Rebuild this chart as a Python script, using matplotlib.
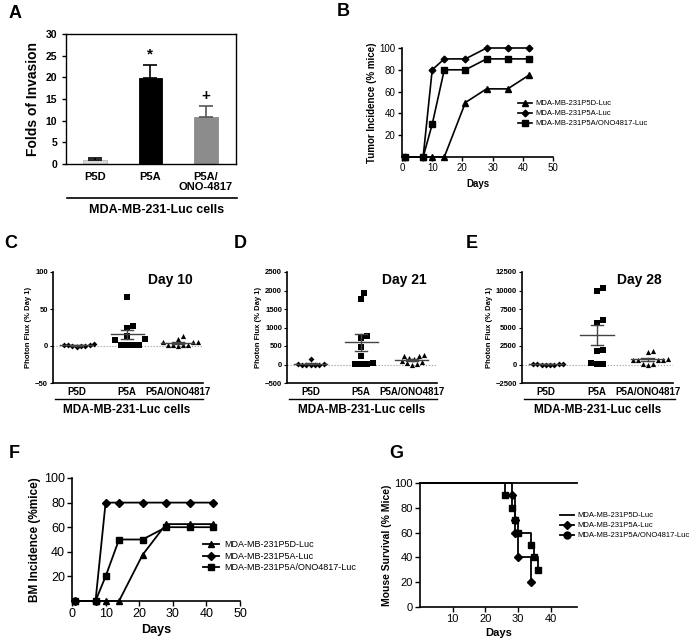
import numpy as np
import matplotlib
matplotlib.use("Agg")
import matplotlib.pyplot as plt
from matplotlib.lines import Line2D

plt.rcParams['font.family'] = ['Liberation Sans', 'DejaVu Sans']

W, H = 699, 644

# ---------------- data ----------------
# Panel A
a_groups = ["P5D", "P5A", "P5A/\nONO-4817"]
a_values = [1.0, 19.8, 10.8]
a_errors = [0.4, 3.1, 2.5]
a_marks = ["", "*", "+"]

# Panel B
b_days = [1, 7, 10, 14, 21, 28, 35, 42]
b_p5d = [0, 0, 0, 0, 50, 62.5, 62.5, 75]
b_p5a = [0, 0, 80, 90, 90, 100, 100, 100]
b_ono = [0, 0, 30, 80, 80, 90, 90, 90]
series_names = ["MDA-MB-231P5D-Luc", "MDA-MB-231P5A-Luc", "MDA-MB-231P5A/ONO4817-Luc"]

# Panels C-E
cat_labels = ["P5D", "P5A", "P5A/ONO4817"]
c_p5d = [0, 1, -1, 0, 2, 1, 3, 0]
c_p5a = [66, 27, 24, 13, 10, 8, 2, 2, 2, 2]
c_ono = [13, 10, 6, 6, 5, 1, 1, 1, 1, 0]
d_p5d = [0, 0, 5, 0, 10, 0, 0, 160]
d_p5a = [1940, 1760, 780, 720, 460, 230, 20, 20, 20, 50]
d_ono = [270, 240, 220, 180, 150, 100, 70, 40, 10, 0]
e_p5d = [0, 30, 0, 20, 0, 10, 0, 40]
e_p5a = [10300, 10000, 6000, 5600, 2000, 1850, 200, 50, 30]
e_ono = [1800, 1750, 700, 650, 650, 600, 550, 50, 30, 0]

# Panel F
f_days = [1, 7, 10, 14, 21, 28, 35, 42]
f_p5d = [0, 0, 0, 0, 37.5, 62.5, 62.5, 62.5]
f_p5a = [0, 0, 80, 80, 80, 80, 80, 80]
f_ono = [0, 0, 20, 50, 50, 60, 60, 60]

# Panel G (Kaplan-Meier)
g_p5d_t = [0, 48]
g_p5d_s = [100, 100]
g_p5a_t = [0, 28, 29, 29, 30, 34]
g_p5a_s = [100, 90, 70, 60, 40, 20]
g_ono_t = [0, 26, 28, 29, 30, 34, 35, 36]
g_ono_s = [100, 90, 80, 70, 60, 50, 40, 30]


def rect(l, t, r, b):
    return [l / W, 1 - b / H, (r - l) / W, (b - t) / H]


def ftext(x, y, s, **kw):
    fig.text(x / W, 1 - y / H, s, **kw)


def fline(x0, x1, y, lw=1.0, color='black'):
    fig.add_artist(Line2D([x0 / W, x1 / W], [1 - y / H, 1 - y / H], lw=lw, color=color))


fig = plt.figure(figsize=(W / 100, H / 100), dpi=100)

# ---------------- Panel A ----------------
axA = fig.add_axes(rect(66, 34, 236, 164))
xa = np.arange(len(a_groups))
colsA = ['#d9d9d9', '#000000', '#8c8c8c']
axA.bar(xa, a_values, width=0.42, color=colsA, edgecolor=['#bbbbbb', 'black', '#8c8c8c'], linewidth=0.6, zorder=2)
for i in range(3):
    ec = '#555555' if i == 2 else 'black'
    axA.errorbar(xa[i], a_values[i], yerr=[[0], [a_errors[i]]], fmt='none', ecolor=ec,
                 elinewidth=1.2, capsize=5, capthick=1.2, zorder=3)
    if a_marks[i]:
        axA.text(xa[i], a_values[i] + a_errors[i] + 0.8, a_marks[i], ha='center', va='bottom',
                 fontsize=11, fontweight='bold')
axA.set_xlim(-0.52, 2.54)
axA.set_ylim(0, 30)
axA.set_yticks([0, 5, 10, 15, 20, 25, 30])
axA.set_xticks(xa)
axA.set_xticklabels(a_groups, fontsize=8, fontweight='bold', linespacing=1.0)
axA.tick_params(axis='x', length=0, pad=6)
axA.tick_params(axis='y', labelsize=7.5, length=3, width=1)
for lab in axA.get_yticklabels():
    lab.set_fontweight('bold')
for sp in axA.spines.values():
    sp.set_linewidth(1.0)
axA.set_ylabel("Folds of Invasion", fontsize=10, fontweight='bold', labelpad=4)
fline(67, 237, 198, lw=1.2)
ftext(157, 210, "MDA-MB-231-Luc cells", ha='center', va='center', fontsize=9, fontweight='bold')


# ---------------- line panels ----------------
def incidence(ax, days, s1, s2, s3, lw=1.3, ms=4.5):
    ax.plot(days, s1, marker='^', color='black', lw=lw, ms=ms, clip_on=False, label=series_names[0])
    ax.plot(days, s2, marker='D', color='black', lw=lw, ms=ms * 0.85, clip_on=False, label=series_names[1])
    ax.plot(days, s3, marker='s', color='black', lw=lw, ms=ms, clip_on=False, label=series_names[2])
    ax.set_xlim(0, 50)
    ax.set_ylim(0, 100)
    ax.set_xticks([0, 10, 20, 30, 40, 50])
    ax.set_yticks([20, 40, 60, 80, 100])
    for s in ['top', 'right']:
        ax.spines[s].set_visible(False)
    for s in ['left', 'bottom']:
        ax.spines[s].set_linewidth(1.2)


axB = fig.add_axes(rect(402, 48, 553, 157))
incidence(axB, b_days, b_p5d, b_p5a, b_ono, lw=1.2, ms=4)
axB.tick_params(labelsize=7, length=3, width=1, pad=1.5)
axB.set_ylabel("Tumor Incidence (% mice)", fontsize=7, fontweight='bold', labelpad=2)
axB.set_xlabel("Days", fontsize=7, fontweight='bold', labelpad=4)
axB.legend(loc='upper left', bbox_to_anchor=((518 - 402) / 151, (157 - 100) / 109), frameon=False,
           fontsize=5.5, handlelength=1.8, handletextpad=0.5, labelspacing=0.35, borderaxespad=0, borderpad=0)

axF = fig.add_axes(rect(72, 478, 240, 601))
incidence(axF, f_days, f_p5d, f_p5a, f_ono, lw=1.3, ms=5)
axF.tick_params(labelsize=9, length=3.5, width=1, pad=1.5)
axF.set_ylabel("BM Incidence (%mice)", fontsize=8.5, fontweight='bold', labelpad=2)
axF.set_xlabel("Days", fontsize=9, fontweight='bold', labelpad=3)
axF.legend(loc='upper left', bbox_to_anchor=((203 - 72) / 168, (601 - 540) / 123), frameon=False,
           fontsize=6.5, handlelength=1.8, handletextpad=0.5, labelspacing=0.3, borderaxespad=0, borderpad=0)


# ---------------- scatter panels ----------------
def swarm(vals, y_px_per_unit, x_px_per_cat, d, vscale=0.85):
    """Deterministic beeswarm: place each point at the smallest horizontal offset free of overlap."""
    vals = np.asarray(vals, float)
    order = np.argsort(vals, kind='stable')
    placed = []
    offs = np.zeros(len(vals))
    step = d / 2.0
    cands = [0.0]
    for k in range(1, 30):
        cands += [k * step, -k * step]
    for i in order:
        y = vals[i] * y_px_per_unit
        for c in cands:
            if all(np.hypot(c - px, (y - py) * vscale) >= d for px, py in placed):
                placed.append((c, y))
                offs[i] = c / x_px_per_cat
                break
    return offs


def scatter_panel(rc, data, ylim, yticks, day_text, day_xy):
    ax = fig.add_axes(rc)
    markers = ['D', 's', '^']
    sizes = [9, 14, 14]
    dists = [4.3, 6.0, 5.0]
    ypx = rc[3] * H / (ylim[1] - ylim[0])
    xpx = rc[2] * W / 2.97
    ax.axhline(0, color='#999999', lw=0.8, ls=':', zorder=0)
    for i, vals in enumerate(data):
        offs = swarm(vals, ypx, xpx, dists[i])
        ax.scatter(i + offs, vals, marker=markers[i], s=sizes[i], color='black', zorder=3, linewidths=0)
        v = np.asarray(vals, float)
        m = v.mean()
        se = v.std(ddof=1) / np.sqrt(len(v))
        ax.plot([i - 0.33, i + 0.33], [m, m], color='#444444', lw=1.0, zorder=4)
        ax.plot([i, i], [m - se, m + se], color='#444444', lw=1.0, zorder=4)
        ax.plot([i - 0.12, i + 0.12], [m + se, m + se], color='#444444', lw=1.0, zorder=4)
        ax.plot([i - 0.12, i + 0.12], [m - se, m - se], color='#444444', lw=1.0, zorder=4)
    ax.set_xlim(-0.47, 2.5)
    ax.set_ylim(*ylim)
    ax.set_yticks(yticks)
    ax.set_xticks([0, 1, 2])
    ax.set_xticklabels(cat_labels, fontsize=7, fontweight='bold')
    ax.tick_params(axis='x', length=0, pad=3)
    ax.tick_params(axis='y', labelsize=5.5, length=2.5, width=0.8, pad=1)
    for lab in ax.get_yticklabels():
        lab.set_fontweight('bold')
    for s in ['top', 'right']:
        ax.spines[s].set_visible(False)
    for s in ['left', 'bottom']:
        ax.spines[s].set_linewidth(1.2)
    ax.set_ylabel("Photon Flux (% Day 1)", fontsize=5.5, fontweight='bold', labelpad=2)
    ax.text(day_xy[0], day_xy[1], day_text, transform=ax.transAxes, fontsize=10, fontweight='bold',
            ha='center', va='center')
    return ax


axC = scatter_panel(rect(53, 272, 203, 383), [c_p5d, c_p5a, c_ono], (-50, 100), [-50, 0, 50, 100],
                    "Day 10", (0.78, 0.93))
axD = scatter_panel(rect(287, 272, 437, 383), [d_p5d, d_p5a, d_ono], (-500, 2500),
                    [-500, 0, 500, 1000, 1500, 2000, 2500], "Day 21", (0.78, 0.93))
axE = scatter_panel(rect(522, 272, 673, 383), [e_p5d, e_p5a, e_ono], (-2500, 12500),
                    [-2500, 0, 2500, 5000, 7500, 10000, 12500], "Day 28", (0.78, 0.93))
for (x0, x1, xc) in [(55, 203, 127), (289, 437, 362), (524, 675, 598)]:
    fline(x0, x1, 399, lw=1.0)
    ftext(xc, 410, "MDA-MB-231-Luc cells", ha='center', va='center', fontsize=8.5, fontweight='bold')

# ---------------- Panel G ----------------
axG = fig.add_axes(rect(420, 483, 577, 607))
axG.step(g_p5d_t, g_p5d_s, where='post', color='black', lw=1.3, clip_on=False, label=series_names[0])
axG.step(g_p5a_t, g_p5a_s, where='post', color='black', lw=1.3, clip_on=False)
axG.plot(g_p5a_t[1:], g_p5a_s[1:], 'D', color='black', ms=4, clip_on=False)
axG.step(g_ono_t, g_ono_s, where='post', color='black', lw=1.3, clip_on=False)
axG.plot(g_ono_t[1:], g_ono_s[1:], 's', color='black', ms=4.5, clip_on=False)
axG.plot([], [], marker='D', color='black', ms=4, lw=1.3, label=series_names[1])
axG.plot([], [], marker='o', color='black', ms=5, lw=1.3, label=series_names[2])
axG.set_xlim(0, 48)
axG.set_ylim(0, 100)
axG.set_xticks([10, 20, 30, 40])
axG.set_yticks([0, 20, 40, 60, 80, 100])
for s in ['top', 'right']:
    axG.spines[s].set_visible(False)
for s in ['left', 'bottom']:
    axG.spines[s].set_linewidth(1.2)
axG.tick_params(labelsize=8, length=3.5, width=1, pad=1.5)
axG.set_ylabel("Mouse Survival (% Mice)", fontsize=7.5, fontweight='bold', labelpad=2)
axG.set_xlabel("Days", fontsize=8, fontweight='bold', labelpad=3)
axG.legend(loc='upper left', bbox_to_anchor=((560 - 420) / 157, (607 - 512) / 124), frameon=False,
           fontsize=5.5, handlelength=1.8, handletextpad=0.5, labelspacing=0.35, borderaxespad=0, borderpad=0)

# ---------------- panel letters ----------------
for (x, y, s) in [(9, 14, "A"), (337, 11, "B"), (4, 243, "C"), (234, 243, "D"), (466, 243, "E"),
                  (9, 453, "F"), (389, 453, "G")]:
    ftext(x, y, s, fontsize=13, fontweight='bold', ha='left', va='center')

fig.savefig("out.png", dpi=100)
